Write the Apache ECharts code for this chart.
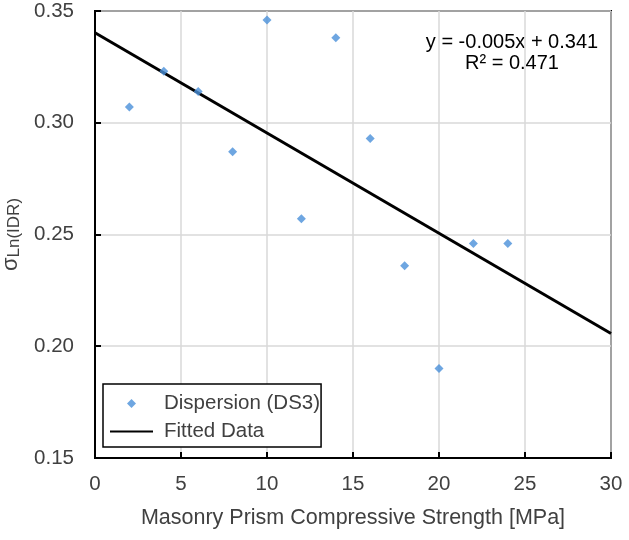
<!DOCTYPE html>
<html>
<head>
<meta charset="utf-8">
<script src="https://cdn.jsdelivr.net/npm/echarts@6/dist/echarts.min.js"></script>
<style>
  html, body { margin: 0; padding: 0; background: #fff; }
  #chart { width: 629px; height: 540px; }
</style>
</head>
<body>
<div id="chart"></div>
<script>
// measured points (strength MPa, dispersion)
var strength = [2, 4, 6, 8, 10, 12, 14, 16, 18, 20, 22, 24];
var dispersion = [0.307, 0.323, 0.314, 0.287, 0.346, 0.257, 0.338, 0.293, 0.236, 0.190, 0.246, 0.246];
// fitted line end points
var fitX = [0, 30];
var fitY = [0.3403, 0.2057];
var xTicks = [0, 5, 10, 15, 20, 25, 30];
var yTicks = [0.15, 0.20, 0.25, 0.30, 0.35];

var font = '"Liberation Sans", Arial, sans-serif';
var txt = '#404040';

var chart = echarts.init(document.getElementById('chart'));

var scatterData = strength.map(function (x, i) { return [x, dispersion[i]]; });
var fitData = fitX.map(function (x, i) { return [x, fitY[i]]; });

var option = {
  animation: false,
  grid: {
    left: 95, right: 18, top: 11, bottom: 82,
    outerBoundsMode: 'none',
    show: true, borderColor: '#000', borderWidth: 2
  },
  xAxis: {
    type: 'value',
    min: xTicks[0], max: xTicks[xTicks.length - 1], interval: 5,
    name: 'Masonry Prism Compressive Strength [MPa]',
    nameLocation: 'middle', nameGap: 49,
    nameTextStyle: { fontFamily: font, fontSize: 21.5, color: txt },
    axisLine: { lineStyle: { color: '#000', width: 2 } },
    axisTick: { inside: true, length: 6, lineStyle: { color: '#000', width: 2 } },
    axisLabel: { fontFamily: font, fontSize: 20.5, color: txt, margin: 16 },
    splitLine: { show: true, lineStyle: { color: '#d9d9d9', width: 1.5 } }
  },
  yAxis: {
    type: 'value',
    min: yTicks[0], max: yTicks[yTicks.length - 1], interval: 0.05,
    name: '{s|σ}{sub|Ln(IDR)}',
    nameLocation: 'middle', nameGap: 70,
    nameTextStyle: {
      fontFamily: font, color: txt,
      rich: {
        s: { fontFamily: font, fontSize: 22, color: txt },
        sub: { fontFamily: font, fontSize: 17, color: txt, verticalAlign: 'bottom', padding: [8, 0, 0, 0] }
      }
    },
    axisLine: { lineStyle: { color: '#000', width: 2 } },
    axisTick: { inside: true, length: 6, lineStyle: { color: '#000', width: 2 } },
    axisLabel: {
      fontFamily: font, fontSize: 20.5, color: txt, margin: 21,
      formatter: function (v) { return v.toFixed(2); }
    },
    splitLine: { show: true, lineStyle: { color: '#d9d9d9', width: 1.5 } }
  },
  legend: {
    orient: 'vertical',
    left: 103, top: 384,
    padding: [9, 1, 5, 6],
    itemWidth: 43, itemHeight: 10, itemGap: 7,
    borderColor: '#000', borderWidth: 1.5, borderRadius: 0,
    backgroundColor: '#fff',
    textStyle: { fontFamily: font, fontSize: 20.5, color: txt, lineHeight: 20, padding: [0, 0, 0, 6] },
    data: [
      { name: 'Dispersion (DS3)', icon: 'path://M0 5L0 5M43 5L43 5M21.5 0.5L26 5L21.5 9.5L17 5Z' },
      { name: 'Fitted Data', itemStyle: { opacity: 0 } }
    ]
  },
  graphic: [{
    type: 'text',
    x: 512, y: 32,
    style: {
      text: 'y = -0.005x + 0.341\nR² = 0.471',
      font: '20px ' + font,
      fill: '#000',
      align: 'center',
      verticalAlign: 'top',
      lineHeight: 21
    }
  }],
  series: [
    {
      name: 'Fitted Data',
      type: 'line',
      data: fitData,
      symbol: 'none',
      lineStyle: { color: '#000', width: 3 },
      itemStyle: { color: '#000' },
      z: 2
    },
    {
      name: 'Dispersion (DS3)',
      type: 'scatter',
      data: scatterData,
      symbol: 'diamond',
      symbolSize: 9,
      itemStyle: { color: '#4a90d9' },
      z: 3
    }
  ]
};

chart.setOption(option);
</script>
</body>
</html>
